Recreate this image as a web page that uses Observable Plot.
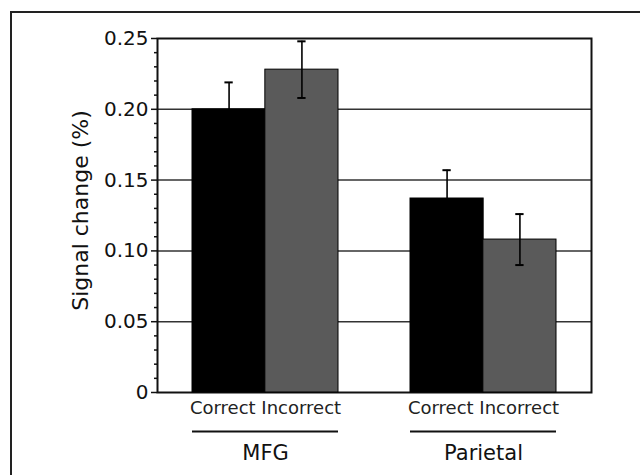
<!DOCTYPE html>
<html>
<head>
<meta charset="utf-8">
<script src="https://cdn.jsdelivr.net/npm/d3@7"></script>
<script src="https://cdn.jsdelivr.net/npm/@observablehq/plot@0.6"></script>
<style>
  html, body { margin: 0; padding: 0; background: #fff; overflow: hidden; }
  #wrap { position: relative; width: 640px; height: 475px; }
  #outer { position: absolute; left: 10px; top: 11px; width: 700px; height: 600px;
           border-top: 2px solid #222; border-left: 2px solid #222; box-sizing: border-box; }
  #chart { position: absolute; left: 0; top: 0; }
</style>
</head>
<body>
<div id="wrap"><div id="outer"></div><div id="chart"></div></div>
<script>
const regions = ["MFG", "Parietal"];
const conditions = ["Correct", "Incorrect"];
const correctValues = [0.200, 0.137];
const incorrectValues = [0.228, 0.108];
const correctErr = [0.019, 0.020];
const incorrectErr = [0.020, 0.018];
const yTicks = [0, 0.05, 0.10, 0.15, 0.20, 0.25];
const yTickLabels = ["0", "0.05", "0.10", "0.15", "0.20", "0.25"];
const yMinorTicks = [0.01, 0.02, 0.03, 0.04, 0.06, 0.07, 0.08, 0.09, 0.11, 0.12, 0.13, 0.14,
                     0.16, 0.17, 0.18, 0.19, 0.21, 0.22, 0.23, 0.24];
const gridValues = [0.05, 0.10, 0.15, 0.20];
const yLabel = "Signal change (%)";
const conditionLabel = conditions.join(" ");

const correctData = regions.map((r, i) => ({region: r, value: correctValues[i], err: correctErr[i]}));
const incorrectData = regions.map((r, i) => ({region: r, value: incorrectValues[i], err: incorrectErr[i]}));

const W = 640, H = 475, mL = 157, mR = 49, mT = 38, mB = 83;
const xOpts = {type: "band", domain: regions, paddingInner: 0.332, paddingOuter: 0.161};
const bw = Plot.scale({x: {...xOpts, range: [mL, W - mR]}}).bandwidth;
const half = bw / 2;
const cap = 4;

const font = "'DejaVu Sans', sans-serif";

const chart = Plot.plot({
  width: W,
  height: H,
  marginLeft: mL,
  marginRight: mR,
  marginTop: mT,
  marginBottom: mB,
  style: {fontFamily: font, background: "transparent", color: "#111"},
  x: {...xOpts, axis: null},
  y: {domain: [0, 0.25], axis: null},
  marks: [
    Plot.ruleY(gridValues, {stroke: "#333", strokeWidth: 1.5}),
    Plot.frame({stroke: "#111", strokeWidth: 2}),
    Plot.barY(correctData, {x: "region", y: "value", fill: "#000", stroke: "#000", strokeWidth: 1, insetRight: half}),
    Plot.barY(incorrectData, {x: "region", y: "value", fill: "#5a5a5a", stroke: "#000", strokeWidth: 1, insetLeft: half}),
    Plot.ruleX(correctData, {x: "region", y1: d => d.value - d.err, y2: d => d.value + d.err, dx: -half / 2, stroke: "#000", strokeWidth: 1.6}),
    Plot.ruleX(incorrectData, {x: "region", y1: d => d.value - d.err, y2: d => d.value + d.err, dx: half / 2, stroke: "#000", strokeWidth: 1.6}),
    Plot.tickY(correctData, {x: "region", y: d => d.value + d.err, insetLeft: half / 2 - cap, insetRight: half * 1.5 - cap, stroke: "#000", strokeWidth: 2}),
    Plot.tickY(incorrectData, {x: "region", y: d => d.value + d.err, insetLeft: half * 1.5 - cap, insetRight: half / 2 - cap, stroke: "#000", strokeWidth: 2}),
    Plot.tickY(incorrectData, {x: "region", y: d => d.value - d.err, insetLeft: half * 1.5 - cap, insetRight: half / 2 - cap, stroke: "#000", strokeWidth: 2}),
    Plot.axisY({ticks: yTicks, tickFormat: d => yTickLabels[yTicks.indexOf(d)], tickSize: 6, tickPadding: 3, fontSize: 20, strokeWidth: 1.5, label: null}),
    Plot.axisY({ticks: yMinorTicks, tickFormat: () => "", tickSize: 3, strokeWidth: 1.5, label: null}),
    Plot.text([yLabel], {frameAnchor: "left", textAnchor: "middle", rotate: -90, dx: -77, dy: -5, fontSize: 22, fill: "#111"}),
    Plot.text(regions, {x: d => d, text: () => conditionLabel, frameAnchor: "bottom", dy: 21, fontSize: 18, fill: "#222"}),
    Plot.tickY(regions, {x: d => d, y: () => 0, dy: 39, stroke: "#111", strokeWidth: 2}),
    Plot.text(regions, {x: d => d, text: d => d, frameAnchor: "bottom", dy: 67, fontSize: 21, fill: "#111"})
  ]
});
document.getElementById("chart").appendChild(chart);
</script>
</body>
</html>
